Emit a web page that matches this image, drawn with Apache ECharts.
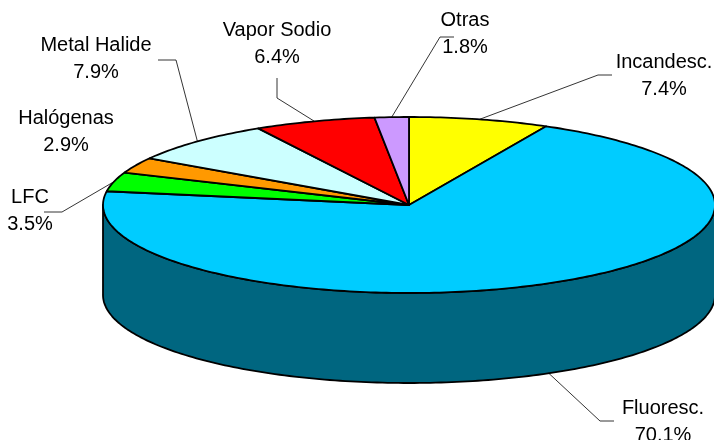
<!DOCTYPE html>
<html><head><meta charset="utf-8">
<script src="https://cdn.jsdelivr.net/npm/echarts@6/dist/echarts.min.js"></script>
<style>html,body{margin:0;padding:0;background:#fff}#c{width:714px;height:440px}</style>
</head><body><div id="c"></div>
<script>
const categories = ['Incandesc.','Fluoresc.','LFC','Halógenas','Metal Halide','Vapor Sodio','Otras'];
const values = [7.4, 70.1, 3.5, 2.9, 7.9, 6.4, 1.8];
const topColors = ['#FFFF00','#00CCFF','#00FF00','#FF9900','#CCFFFF','#FF0000','#CC99FF'];
const sideColors = ['#808000','#006680','#008000','#804c00','#668080','#800000','#664c80'];
// label layout: [text x, text y (first line centre), bend x, bend y] (null bend = no leader)
const labelLayout = [
  [664, 62, 598, 75],
  [663, 408, 600, 421],
  [30, 197, 62, 212],
  [66, 118, null, null],
  [96, 45, 176, 60],
  [277, 30, 277, 78],
  [465, 20, 440, 37]
];
const cx = 409, cy = 205, rx = 306, ry = 88, depth = 90;
const total = values.reduce((a,b)=>a+b,0);
const starts = []; let acc = 0;
values.forEach(v => { starts.push(acc / total * 360); acc += v; });
function pt(deg, dy) { const r = deg*Math.PI/180; return [cx + rx*Math.sin(r), cy - ry*Math.cos(r) + (dy||0)]; }
function arc(a0, a1, dy) { const pts=[]; const n=Math.max(2,Math.ceil((a1-a0)/1)); for(let i=0;i<=n;i++) pts.push(pt(a0+(a1-a0)*i/n, dy)); return pts; }

const chart = echarts.init(document.getElementById('c'));
chart.setOption({
  animation:false,
  series:[{
    type:'custom', coordinateSystem:'none',
    data: values.map((v,i)=>[v,i]),
    renderItem:function(params, api){
      const i = params.dataIndex;
      const v = api.value(0);
      const a0 = starts[i], a1 = a0 + v/total*360;
      const children = [];
      const s0 = Math.max(a0, 90), s1 = Math.min(a1, 270);
      if (s1 > s0) {
        const top = arc(s0, s1, 0), bot = arc(s0, s1, depth).reverse();
        children.push({type:'polygon', shape:{points: top.concat(bot)}, style:{fill: sideColors[i], stroke:'#000', lineWidth:1.8, lineJoin:'round'}});
      }
      children.push({type:'polygon', shape:{points: [[cx,cy]].concat(arc(a0,a1,0))}, style:{fill: topColors[i], stroke:'#000', lineWidth:1.8, lineJoin:'round'}});
      const L = labelLayout[i];
      const mid = (a0+a1)/2;
      const front = Math.cos(mid*Math.PI/180) < 0;
      const anchor = pt(mid, front ? depth : 0);
      if (L[2] !== null) {
        const hEnd = L[0] < anchor[0] ? L[2] - 18 : L[2] + 14;
        let pts;
        if (i === 5) pts = [[L[2], L[3]], [L[2], L[3]+20], anchor];
        else pts = [[hEnd, L[3]], [L[2], L[3]], anchor];
        children.push({type:'polyline', shape:{points: pts}, style:{stroke:'#000', lineWidth:0.8, fill:null}});
      }
      children.push({type:'text', style:{x:L[0], y:L[1]+13.5, text: categories[i] + '\n' + v.toFixed(1) + '%', align:'center', verticalAlign:'middle', font:'20px "Liberation Sans", Arial, sans-serif', fill:'#000', lineHeight:27}, z2:10});
      return {type:'group', children};
    }
  }]
});
</script></body></html>
